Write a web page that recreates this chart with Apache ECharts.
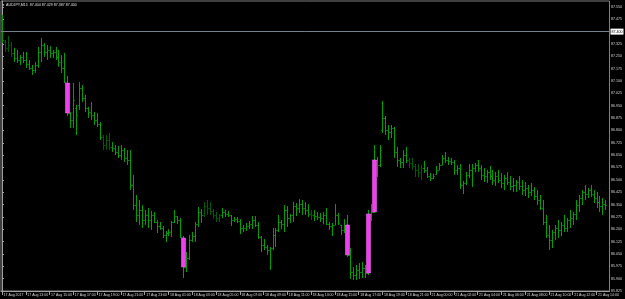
<!DOCTYPE html>
<html><head><meta charset="utf-8">
<script src="https://cdn.jsdelivr.net/npm/echarts@6/dist/echarts.min.js"></script>
<style>html,body{margin:0;padding:0;background:#000}#c{width:625px;height:299px}</style>
</head><body><div id="c"></div>
<script>
const symbolTitle = 'AUDJPY,M15  87.404 87.429 87.387 87.400';
const currentPrice = 87.400;
const timeLabels = ['17 Aug 2017','17 Aug 13:00','17 Aug 15:00','17 Aug 17:00','17 Aug 19:00','17 Aug 21:00','17 Aug 23:00','18 Aug 01:00','18 Aug 03:00','18 Aug 05:00','18 Aug 07:00','18 Aug 09:00','18 Aug 11:00','18 Aug 13:00','18 Aug 15:00','18 Aug 17:00','18 Aug 19:00','18 Aug 21:00','21 Aug 00:00','21 Aug 02:00','21 Aug 04:00','21 Aug 06:00','21 Aug 08:00','21 Aug 10:00','21 Aug 12:00','21 Aug 14:00'];
const barsPerLabel = 8;
const priceTicks = [87.550,87.475,87.400,87.325,87.250,87.175,87.100,87.025,86.950,86.875,86.800,86.725,86.650,86.575,86.500,86.425,86.350,86.275,86.200,86.125,86.050,85.975,85.900,85.825];

const opens = [87.471,87.337,87.301,87.319,87.271,87.240,87.228,87.246,87.228,87.204,87.180,87.167,87.198,87.277,87.319,87.277,87.289,87.271,87.277,87.246,87.216,87.180,87.088,86.906,86.864,86.937,86.955,87.058,86.997,86.937,86.912,86.894,86.864,86.839,86.760,86.712,86.742,86.700,86.694,86.669,86.651,86.681,86.633,86.621,86.469,86.347,86.287,86.317,86.256,86.287,86.256,86.287,86.244,86.220,86.208,86.165,86.177,86.183,86.244,86.280,86.256,86.147,85.971,86.025,86.135,86.159,86.232,86.305,86.287,86.341,86.329,86.311,86.287,86.268,86.287,86.305,86.293,86.287,86.256,86.262,86.250,86.208,86.208,86.220,86.232,86.256,86.226,86.153,86.104,86.092,86.074,86.086,86.165,86.196,86.244,86.232,86.317,86.268,86.287,86.341,86.329,86.353,86.329,86.317,86.293,86.287,86.280,86.274,86.268,86.287,86.232,86.220,86.226,86.287,86.226,86.196,86.226,86.044,85.940,85.922,85.953,85.940,85.965,85.934,86.293,86.305,86.621,86.590,86.803,86.876,86.803,86.791,86.815,86.669,86.621,86.609,86.651,86.621,86.602,86.584,86.560,86.548,86.572,86.560,86.523,86.511,86.536,86.560,86.590,86.633,86.621,86.615,86.609,86.560,86.572,86.469,86.481,86.530,86.560,86.572,86.590,86.572,86.530,86.523,86.548,86.523,86.499,86.523,86.499,86.481,86.511,86.487,86.463,86.469,86.487,86.463,86.438,86.451,86.426,86.438,86.402,86.378,86.329,86.244,86.165,86.135,86.183,86.208,86.196,86.226,86.208,86.256,86.268,86.293,86.347,86.390,86.426,86.414,86.438,86.414,86.390,86.365,86.341,86.353];
const highs = [87.501,87.350,87.374,87.337,87.301,87.289,87.258,87.277,87.277,87.228,87.198,87.216,87.307,87.362,87.331,87.319,87.313,87.289,87.307,87.289,87.258,87.271,87.131,86.912,87.088,86.955,87.094,87.076,87.016,86.943,86.973,86.912,86.906,86.851,86.772,86.772,86.785,86.730,86.712,86.706,86.712,86.694,86.681,86.681,86.530,86.408,86.378,86.347,86.317,86.329,86.311,86.305,86.256,86.244,86.220,86.189,86.201,86.250,86.317,86.280,86.268,86.159,86.062,86.165,86.183,86.244,86.335,86.323,86.365,86.378,86.365,86.323,86.305,86.293,86.329,86.317,86.311,86.287,86.274,86.274,86.262,86.226,86.238,86.250,86.280,86.280,86.244,86.159,86.141,86.104,86.092,86.208,86.208,86.287,86.256,86.347,86.341,86.293,86.365,86.359,86.384,86.378,86.365,86.353,86.317,86.317,86.305,86.299,86.305,86.329,86.244,86.238,86.353,86.299,86.226,86.262,86.287,86.086,85.971,85.983,85.995,86.001,85.983,86.317,86.353,86.712,86.639,86.712,86.979,86.888,86.833,86.833,86.821,86.700,86.633,86.681,86.700,86.633,86.633,86.596,86.596,86.590,86.615,86.578,86.542,86.536,86.584,86.602,86.651,86.669,86.639,86.633,86.621,86.590,86.596,86.493,86.548,86.596,86.596,86.602,86.621,86.590,86.572,86.560,86.584,86.560,86.548,86.560,86.542,86.530,86.548,86.523,86.511,86.499,86.523,86.499,86.487,86.469,86.481,86.457,86.438,86.408,86.378,86.287,86.226,86.196,86.226,86.256,86.244,86.287,86.268,86.317,86.305,86.378,86.408,86.438,86.469,86.451,86.469,86.438,86.426,86.402,86.390,86.378];
const lows = [87.331,87.277,87.277,87.246,87.216,87.210,87.198,87.210,87.180,87.167,87.137,87.149,87.180,87.216,87.246,87.228,87.240,87.240,87.228,87.186,87.149,87.088,86.888,86.815,86.815,86.772,86.924,86.973,86.912,86.876,86.864,86.833,86.821,86.742,86.681,86.681,86.681,86.669,86.651,86.633,86.621,86.609,86.590,86.438,86.317,86.244,86.226,86.208,86.226,86.208,86.196,86.238,86.177,86.196,86.147,86.123,86.159,86.153,86.238,86.232,86.147,85.904,85.940,86.013,86.123,86.123,86.214,86.238,86.274,86.287,86.287,86.262,86.244,86.244,86.268,86.274,86.274,86.220,86.244,86.238,86.171,86.183,86.189,86.201,86.201,86.214,86.141,86.062,86.074,86.044,85.953,86.074,86.092,86.183,86.201,86.183,86.214,86.238,86.244,86.280,86.299,86.287,86.287,86.274,86.256,86.250,86.256,86.244,86.232,86.226,86.196,86.159,86.226,86.226,86.165,86.177,86.031,85.898,85.892,85.892,85.898,85.904,85.904,85.922,86.250,86.299,86.517,86.578,86.785,86.772,86.742,86.754,86.633,86.578,86.572,86.572,86.602,86.572,86.560,86.517,86.517,86.499,86.542,86.511,86.493,86.505,86.530,86.560,86.590,86.602,86.590,86.590,86.530,86.530,86.444,86.414,86.469,86.511,86.457,86.548,86.548,86.499,86.487,86.481,86.499,86.469,86.463,86.481,86.451,86.438,86.469,86.438,86.426,86.426,86.438,86.408,86.402,86.390,86.402,86.378,86.347,86.317,86.226,86.147,86.074,86.086,86.135,86.147,86.159,86.183,86.183,86.208,86.226,86.256,86.305,86.347,86.378,86.390,86.396,86.359,86.329,86.305,86.287,86.317];
const closes = [87.350,87.301,87.319,87.271,87.240,87.228,87.246,87.228,87.204,87.180,87.167,87.198,87.277,87.319,87.277,87.289,87.271,87.277,87.246,87.216,87.180,87.094,86.906,86.864,86.985,86.894,87.058,86.997,86.937,86.912,86.894,86.864,86.839,86.760,86.712,86.742,86.700,86.694,86.669,86.651,86.681,86.633,86.621,86.469,86.347,86.287,86.317,86.256,86.287,86.256,86.287,86.244,86.220,86.208,86.165,86.177,86.183,86.244,86.280,86.256,86.153,85.971,86.025,86.135,86.159,86.232,86.305,86.287,86.341,86.329,86.311,86.287,86.268,86.287,86.305,86.293,86.287,86.256,86.262,86.250,86.208,86.208,86.220,86.232,86.256,86.226,86.153,86.104,86.092,86.074,86.086,86.165,86.196,86.244,86.232,86.317,86.268,86.287,86.341,86.329,86.353,86.329,86.317,86.293,86.287,86.280,86.274,86.268,86.287,86.232,86.220,86.226,86.287,86.238,86.196,86.226,86.044,85.940,85.922,85.953,85.940,85.965,85.934,86.293,86.305,86.621,86.590,86.681,86.876,86.803,86.791,86.815,86.669,86.621,86.609,86.651,86.621,86.602,86.584,86.560,86.548,86.572,86.560,86.523,86.511,86.523,86.560,86.590,86.633,86.621,86.615,86.609,86.560,86.572,86.469,86.481,86.530,86.560,86.572,86.590,86.572,86.530,86.523,86.548,86.523,86.499,86.523,86.499,86.481,86.511,86.487,86.463,86.469,86.487,86.463,86.438,86.451,86.426,86.438,86.402,86.378,86.329,86.244,86.165,86.135,86.183,86.208,86.196,86.226,86.208,86.256,86.268,86.293,86.347,86.390,86.426,86.414,86.438,86.414,86.390,86.365,86.341,86.353,86.347];
const dimBars = [1,2,3,34,35,36,68,69,70,71,72,73,104,137,138,139,140,141];
const bigBars = [22,61,116,123,125];

const dimSet = new Set(dimBars);
const barData = opens.map((o,i)=>[i,o,highs[i],lows[i],closes[i],dimSet.has(i)?1:0]);
const bigData = bigBars.map(i=>[i,opens[i],closes[i]]);
const tickIdx = timeLabels.map((_,k)=>k*barsPerLabel);

const chart = echarts.init(document.getElementById('c'), null, {renderer:'canvas'});
const FONT = 'Liberation Sans';
chart.setOption({
  backgroundColor:'#000000',
  animation:false,
  grid:{left:1,right:15,top:1,bottom:8,show:true,borderColor:'#7f7f7f',borderWidth:1,backgroundColor:'transparent'},
  xAxis:{type:'value',min:-0.34,max:204.37,
    axisLine:{show:true,lineStyle:{color:'#a0a0a0',width:1}},
    splitLine:{show:false},
    axisTick:{show:true,length:4,customValues:tickIdx,lineStyle:{color:'#a0a0a0'}},
    axisLabel:{customValues:tickIdx,formatter:v=>timeLabels[Math.round(v/barsPerLabel)],align:'left',color:'#d8d8d8',fontSize:3.5,fontFamily:FONT,margin:2,padding:[0,0,0,1.5],showMinLabel:true,showMaxLabel:true,hideOverlap:false}},
  yAxis:{type:'value',position:'right',min:85.825,max:87.586,scale:true,
    axisLine:{show:true,lineStyle:{color:'#a0a0a0',width:1}},
    splitLine:{show:false},
    axisTick:{show:true,length:2,customValues:priceTicks,lineStyle:{color:'#a0a0a0'}},
    axisLabel:{customValues:priceTicks,formatter:v=>v.toFixed(3),color:'#d8d8d8',fontSize:3.6,fontFamily:FONT,margin:1.5,showMinLabel:true,showMaxLabel:true,hideOverlap:false}},
  graphic:[
    {type:'text',left:2,top:3.5,style:{text:'\u25BC',fill:'#d8d8d8',font:'3px '+FONT}},
    {type:'text',left:6,top:3,style:{text:symbolTitle,fill:'#e0e0e0',font:'3.6px '+FONT}}
  ],
  series:[
    {type:'custom',name:'bars',data:barData,encode:{x:0,y:[1,2,3,4]},clip:true,
     renderItem:(params,api)=>{
       const i=api.value(0);
       const ph=api.coord([i,api.value(2)]), pl=api.coord([i,api.value(3)]);
       const po=api.coord([i,api.value(1)]), pc=api.coord([i,api.value(4)]);
       const cx=Math.round(ph[0])+0.5;
       const col=api.value(5)?'#005c00':'#00a000';
       const st={stroke:col,lineWidth:1};
       return {type:'group',children:[
         {type:'line',shape:{x1:cx,y1:ph[1],x2:cx,y2:pl[1]},style:st},
         {type:'line',shape:{x1:cx-1.2,y1:Math.round(po[1])+0.5,x2:cx,y2:Math.round(po[1])+0.5},style:st},
         {type:'line',shape:{x1:cx,y1:Math.round(pc[1])+0.5,x2:cx+1.2,y2:Math.round(pc[1])+0.5},style:st}
       ]};
     },
     markLine:{silent:true,symbol:'none',animation:false,data:[{yAxis:currentPrice}],
       lineStyle:{color:'#75818e',type:'solid',width:1},
       label:{show:true,position:'end',formatter:()=>currentPrice.toFixed(3),backgroundColor:'#ffffff',color:'#000000',fontSize:3.6,fontFamily:FONT,padding:[1,1,1,1],distance:1}}
    },
    {type:'custom',name:'big',data:bigData,encode:{x:0,y:[1,2]},clip:true,
     renderItem:(params,api)=>{
       const i=api.value(0);
       const po=api.coord([i,api.value(1)]), pc=api.coord([i,api.value(2)]);
       const cx=Math.round(po[0]);
       const y1=Math.min(po[1],pc[1]), y2=Math.max(po[1],pc[1]);
       return {type:'rect',shape:{x:cx-1.5,y:y1,width:4,height:y2-y1},style:{fill:'#f23ef2',stroke:'#ff70ff',lineWidth:0.5}};
     }}
  ]
});
</script></body></html>
